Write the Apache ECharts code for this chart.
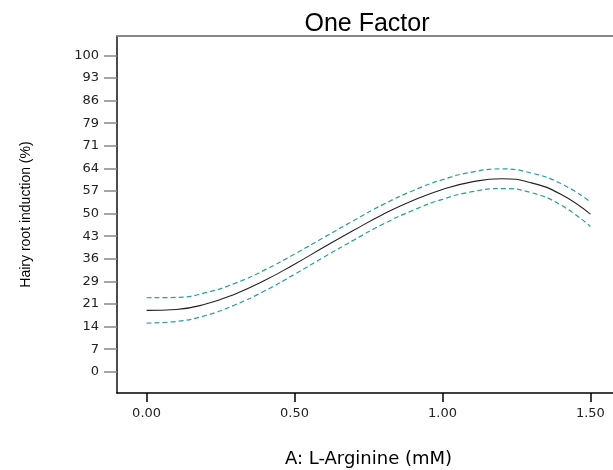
<!DOCTYPE html>
<html>
<head>
<meta charset="utf-8">
<script src="https://cdn.jsdelivr.net/npm/echarts@6/dist/echarts.min.js"></script>
<style>
html,body{margin:0;padding:0;background:#fff;}
#chart{width:613px;height:470px;}
</style>
</head>
<body>
<div id="chart"></div>
<script>
// L-Arginine concentration (mM)
var xValues = [0.0, 0.1, 0.2, 0.3, 0.4, 0.5, 0.6, 0.7, 0.8, 0.9, 1.0, 1.1, 1.2, 1.3, 1.4, 1.5];
// predicted hairy root induction (%)
var predicted = [19.4, 19.7, 21.4, 24.6, 28.9, 34.0, 39.4, 44.7, 49.8, 54.1, 57.6, 60.0, 61.0, 59.7, 56.1, 49.8];
// upper confidence band
var upperBand = [23.4, 23.5, 25.0, 28.0, 32.2, 37.2, 42.5, 47.8, 52.9, 57.2, 60.7, 63.1, 64.1, 62.8, 59.5, 53.7];
// lower confidence band
var lowerBand = [15.4, 15.9, 17.8, 21.2, 25.6, 30.8, 36.3, 41.6, 46.7, 51.0, 54.5, 56.9, 57.9, 56.6, 52.7, 45.9];

var xTickValues = [0, 0.5, 1.0, 1.5];
var xTickLabels = ['0.00', '0.50', '1.00', '1.50'];
var yTickLabels = ['0', '7', '14', '21', '29', '36', '43', '50', '57', '64', '71', '79', '86', '93', '100'];
var yTickValues = yTickLabels.map(function (_, i) { return i * 100 / 14; });

function pairs(ys) { return xValues.map(function (x, i) { return [x, ys[i]]; }); }

var chart = echarts.init(document.getElementById('chart'), null, {renderer: 'canvas'});
chart.setOption({
  animation: false,
  backgroundColor: '#ffffff',
  title: {
    text: 'One Factor',
    left: 362,
    top: 7,
    textAlign: 'center',
    textStyle: {fontFamily: 'Liberation Sans, Arial, sans-serif', fontSize: 25, fontWeight: 'normal', color: '#000'}
  },
  grid: {left: 117, top: 36, right: -7, bottom: 77, containLabel: false, outerBoundsMode: 'none'},
  xAxis: [{
    type: 'value',
    min: -0.1,
    max: 1.6,
    position: 'bottom',
    name: 'A: L-Arginine (mM)',
    nameLocation: 'middle',
    nameGap: 57,
    nameTextStyle: {fontFamily: 'DejaVu Sans, Verdana, sans-serif', fontSize: 18, color: '#000'},
    axisLine: {show: true, onZero: false, lineStyle: {color: '#000', width: 1.5}},
    axisTick: {show: true, customValues: xTickValues, length: 9, lineStyle: {color: '#000', width: 1.5}},
    axisLabel: {
      customValues: xTickValues,
      margin: 14,
      fontFamily: 'DejaVu Sans, Verdana, sans-serif',
      fontSize: 13,
      color: '#222',
      formatter: function (v) { var i = xTickValues.indexOf(v); return i >= 0 ? xTickLabels[i] : ''; }
    },
    splitLine: {show: false}
  }, {
    type: 'value',
    min: -0.1,
    max: 1.6,
    position: 'top',
    axisLine: {show: true, onZero: false, lineStyle: {color: '#888', width: 2}},
    axisTick: {show: false},
    axisLabel: {show: false},
    splitLine: {show: false}
  }],
  yAxis: {
    type: 'value',
    min: -6.7,
    max: 106.1,
    position: 'left',
    name: 'Hairy root induction (%)',
    nameLocation: 'middle',
    nameGap: 84,
    nameTextStyle: {fontFamily: 'Liberation Sans, Arial, sans-serif', fontSize: 14, color: '#000'},
    axisLine: {show: true, onZero: false, lineStyle: {color: '#111', width: 1.5}},
    axisTick: {show: true, customValues: yTickValues, length: 13, lineStyle: {color: '#888', width: 1.5}},
    axisLabel: {
      customValues: yTickValues,
      margin: 18,
      fontFamily: 'DejaVu Sans, Verdana, sans-serif',
      fontSize: 13,
      color: '#222',
      formatter: function (v) {
        for (var i = 0; i < yTickValues.length; i++) {
          if (Math.abs(yTickValues[i] - v) < 1e-6) return yTickLabels[i];
        }
        return '';
      }
    },
    splitLine: {show: false}
  },
  series: [{
    type: 'line',
    name: 'Upper',
    data: pairs(upperBand),
    smooth: true,
    showSymbol: false,
    lineStyle: {color: '#2f9c9c', width: 1.2, type: [5, 3]}
  }, {
    type: 'line',
    name: 'Predicted',
    data: pairs(predicted),
    smooth: true,
    showSymbol: false,
    lineStyle: {color: '#222', width: 1.1}
  }, {
    type: 'line',
    name: 'Lower',
    data: pairs(lowerBand),
    smooth: true,
    showSymbol: false,
    lineStyle: {color: '#2f9c9c', width: 1.2, type: [5, 3]}
  }]
});
</script>
</body>
</html>
